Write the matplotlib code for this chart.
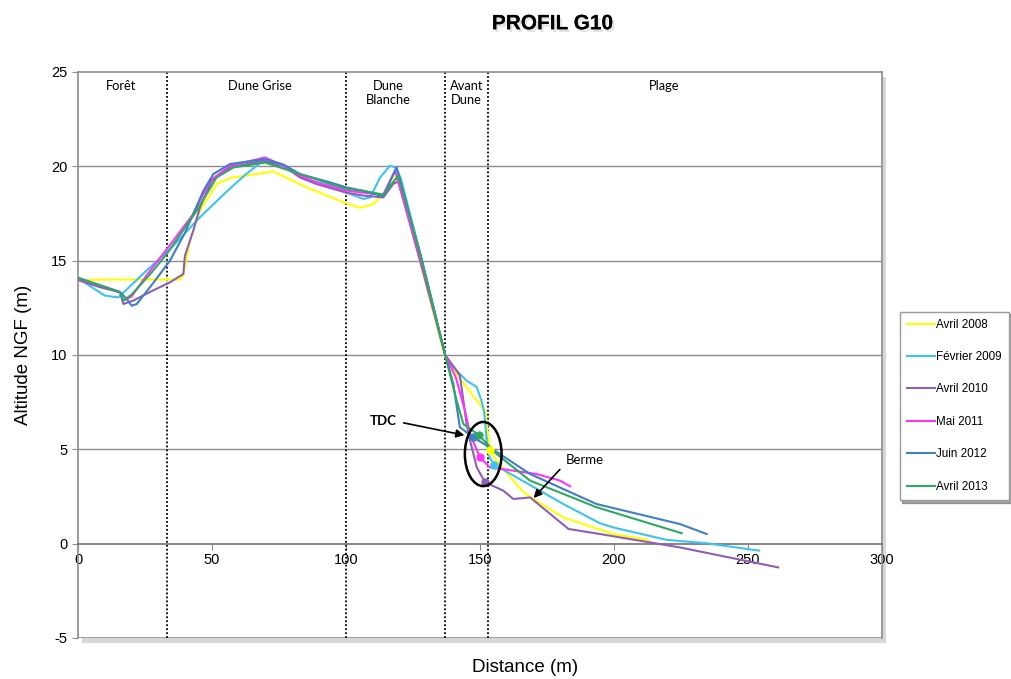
import matplotlib
matplotlib.use("Agg")
import matplotlib.pyplot as plt
import matplotlib.patheffects as pe
from matplotlib.patches import Ellipse

# profile data (distance m, altitude NGF m)
x_2008 = [0, 10, 20, 30, 38, 39.2, 39.8, 41.8, 45.5, 51.7, 56.7, 72.9, 85, 100.2, 105.2, 110.2,
          115.2, 119.5, 128.2, 137, 141.3, 146.9, 151.9, 153.7, 156.2, 165.6, 169.9, 181.1, 199.7, 212.8]
y_2008 = [13.95, 14.0, 14.0, 14.0, 14.0, 14.2, 14.64, 16.06, 17.65, 19.06, 19.38, 19.73, 18.9, 18.03, 17.8, 18.0,
          18.7, 19.6, 14.64, 9.87, 9.0, 7.93, 7.05, 4.98, 4.4, 2.81, 2.37, 1.39, 0.51, 0.2]

x_2009 = [0, 5, 10, 15, 16.9, 25, 34.3, 45.5, 55, 62, 69.1, 76.6, 85, 94, 100.2, 106.5, 109, 112.7,
          116.4, 118.3, 120.4, 128, 137, 140, 145, 148.8, 150.5, 151.5, 152, 152.5, 153.5, 155.2, 163.7,
          181.1, 194.8, 199.7, 219.7, 234.6, 254.2]
y_2009 = [14.08, 13.6, 13.15, 13.05, 13.3, 14.4, 15.6, 17.3, 18.6, 19.5, 20.3, 20.0, 19.3, 19.0, 18.6, 18.27, 18.35, 19.4,
          20.03, 19.95, 19.4, 15.2, 10.0, 9.35, 8.64, 8.3, 7.6, 7.0, 6.3, 5.4, 4.6, 4.19, 3.51,
          2.1, 1.08, 0.86, 0.2, 0.02, -0.37]

x_2010 = [0, 8, 15.7, 16.9, 20.6, 27, 34.3, 39.3, 39.9, 43, 45.5, 49.9, 56.7, 69.1, 76.6, 82.8, 89, 100.2,
          106.5, 113.9, 117.6, 119.5, 128, 137, 141.3, 142.5, 143.8, 145, 146.3, 148.8, 151.9, 158.7, 162.4,
          165, 168.7, 183, 194.8, 224.6, 261.3]
y_2010 = [13.97, 13.6, 13.32, 12.7, 12.88, 13.35, 13.85, 14.29, 15.26, 16.59, 17.82, 19.24, 19.94, 20.3, 20.03, 19.41, 19.06, 18.6,
          18.45, 18.35, 19.06, 19.2, 14.8, 10.0, 9.17, 8.9, 7.58, 6.34, 5.46, 4.04, 3.25, 2.81, 2.37,
          2.4, 2.45, 0.78, 0.51, -0.2, -1.26]

x_2011 = [0, 8, 15.7, 16.9, 20, 26, 33.1, 43, 49.3, 56.7, 69.8, 76.6, 82.8, 90, 100.2, 106.5, 113.9,
          118.3, 128, 137, 141, 144.4, 146.3, 150, 153.7, 162.4, 171.1, 179.9, 183.6]
y_2011 = [14.03, 13.7, 13.35, 12.88, 13.1, 14.3, 15.6, 17.47, 19.24, 20.03, 20.47, 20.03, 19.5, 19.1, 18.71, 18.6, 18.5,
          19.77, 15.0, 10.0, 8.8, 7.05, 5.81, 4.57, 4.04, 3.87, 3.69, 3.34, 3.04]

x_2012 = [0, 8, 15.7, 18, 20, 21.9, 28, 34.3, 40, 46.8, 50.5, 56.7, 69.8, 76.6, 82.8, 94, 100.2, 106.5,
          113.9, 118.9, 128, 137, 140, 142.5, 147.5, 153.7, 168.7, 193.5, 224.6, 234.6]
y_2012 = [14.08, 13.7, 13.32, 13.0, 12.61, 12.7, 13.8, 15.0, 16.5, 18.71, 19.59, 20.12, 20.38, 20.1, 19.59, 19.15, 18.88, 18.7,
          18.4, 19.95, 15.2, 10.0, 8.5, 6.17, 5.63, 5.1, 3.69, 2.1, 1.04, 0.51]

x_2013 = [0, 8, 15.7, 16.9, 20, 27, 33.1, 44.3, 51.7, 58, 69.8, 82.8, 100.2, 106.5, 113.9, 119.5, 128,
          137, 141.3, 143.8, 149.6, 156.2, 168.7, 193.5, 225.3]
y_2013 = [14.1, 13.7, 13.32, 12.88, 13.2, 14.3, 15.35, 17.65, 19.41, 19.94, 20.2, 19.59, 18.8, 18.7, 18.5, 19.5, 15.2,
          10.0, 7.58, 6.34, 5.75, 4.75, 3.34, 1.93, 0.55]

labels = ["Avril 2008", "Février 2009", "Avril 2010", "Mai 2011", "Juin 2012", "Avril 2013"]
colors = ["#ffff00", "#3cc4f0", "#8e5fb5", "#ff33ff", "#3f7fc6", "#2eaa60"]
series = [(x_2008, y_2008), (x_2009, y_2009), (x_2010, y_2010),
          (x_2011, y_2011), (x_2012, y_2012), (x_2013, y_2013)]

# top-of-beach / berm points
pts_x = [153.7, 155.2, 151.9, 150.0, 147.5, 149.6]
pts_y = [4.98, 4.19, 3.25, 4.57, 5.63, 5.75]

# zone limits and labels
zone_lims = [33.2, 100, 137, 153]
zone_names = ["Forêt", "Dune Grise", "Dune\nBlanche", "Avant\nDune", "Plage"]
zone_pos = [16, 68, 115.7, 145, 218.7]

plt.rcParams['font.family'] = ['Liberation Sans', 'DejaVu Sans']
plt.rcParams['axes.unicode_minus'] = False

fig = plt.figure(figsize=(10.12, 6.79), dpi=100)
ax = fig.add_axes([0.0771, 0.0604, 0.7944, 0.8336])

# shadow behind plot frame
shadow = plt.Rectangle((0.0771 + 0.004, 0.0604 - 0.008), 0.7944, 0.8336, transform=fig.transFigure,
                       facecolor="#bdbdbd", edgecolor="none", zorder=-5, alpha=0.6)
fig.patches.append(shadow)

for (xs, ys), c, lab in zip(series, colors, labels):
    ax.plot(xs, ys, color=c, lw=1.5, label=lab, zorder=3)

for px, py, c in zip(pts_x, pts_y, colors):
    ax.plot(px, py, "o", color=c, ms=5, zorder=4)

for xl in zone_lims:
    ax.axvline(xl, color="black", lw=1.3, ls=(0, (1, 1.2)), zorder=2)

for xp, name in zip(zone_pos, zone_names):
    ax.text(xp, 24.6, name, ha="center", va="top", fontsize=9.3, family="Lato", linespacing=1.25)

for yg in [5, 10, 15, 20]:
    ax.axhline(yg, color="#8c8c8c", lw=1, zorder=1)
ax.axhline(-5, color="#8c8c8c", lw=1.2, zorder=1)

ax.set_xlim(0, 300)
ax.set_ylim(-5, 25)
ax.set_xticks([0, 50, 100, 150, 200, 250, 300])
ax.set_yticks([-5, 0, 5, 10, 15, 20, 25])
ax.spines["bottom"].set_position(("data", 0))
ax.spines["bottom"].set_color("#707070")
for name in ["left", "top", "right"]:
    ax.spines[name].set_color("#8c8c8c")
for s in ax.spines.values():
    s.set_linewidth(1.2)
ax.tick_params(axis="both", labelsize=10.5, color="#8c8c8c", length=4, direction="out")
ax.tick_params(axis="x", pad=3)

ax.set_ylabel("Altitude NGF (m)", fontsize=13.5, labelpad=14)
fig.text(0.519, 0.005, "Distance (m)", ha="center", va="bottom", fontsize=13.5)

fig.text(0.546, 0.965, "PROFIL G10", ha="center", va="center", fontsize=15, fontweight="bold",
         path_effects=[pe.withSimplePatchShadow(offset=(1.5, -2), shadow_rgbFace="gray", alpha=0.22), pe.Normal()])

# annotations
ax.add_patch(Ellipse((151.2, 4.75), 13.7, 3.4, angle=0, fill=False, edgecolor="black", lw=1.8, zorder=5))
ax.annotate("", xy=(145.2, 5.72), xytext=(120.5, 6.43),
            arrowprops=dict(arrowstyle="-|>", color="black", lw=1.2, mutation_scale=12))
ax.text(119, 6.5, "TDC", ha="right", va="center", fontsize=9.5, fontweight="bold", family="Lato")
ax.annotate("", xy=(169.3, 2.31), xytext=(180.5, 4.04),
            arrowprops=dict(arrowstyle="-|>", color="black", lw=1.2, mutation_scale=12))
ax.text(182, 4.1, "Berme", ha="left", va="bottom", fontsize=9.5, family="Lato")

leg = fig.legend(loc="upper left", bbox_to_anchor=(0.889, 0.541), fontsize=8.4, frameon=True,
                 fancybox=False, shadow=True, edgecolor="#9a9a9a", labelspacing=1.75,
                 handlelength=2.4, handletextpad=0.15, borderpad=0.6, borderaxespad=0)

fig.savefig("out.png", dpi=100)
